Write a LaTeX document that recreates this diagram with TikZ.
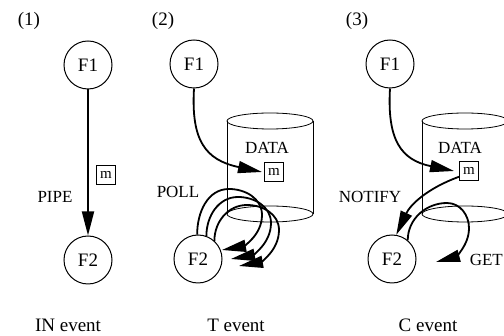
\documentclass[tikz,border=0pt]{standalone}
\usepackage{fontspec}
\setmainfont{Liberation Serif}
\usetikzlibrary{arrows.meta, positioning}

\begin{document}
\begin{tikzpicture}[
  x=1pt, y=1pt,
  >={Triangle[length=24pt, width=12pt]},
  proc/.style  = {draw, circle, line width=1pt, minimum size=48pt, inner sep=0pt, font=\fontsize{19}{22}\selectfont},
  mbox/.style  = {draw, rectangle, line width=1pt, minimum size=19pt, inner sep=0pt, font=\fontsize{15}{17}\selectfont},
  lbl/.style   = {inner sep=0pt, font=\fontsize{17}{20}\selectfont},
  title/.style = {inner sep=0pt, font=\fontsize{19}{22}\selectfont},
  flow/.style  = {->, line width=1.8pt},
  store/.style = {line width=0.8pt},
]
  \useasboundingbox (0,0) rectangle (504,-336);
  \clip (0,0) rectangle (504,-336);

  % data stores of (2) and (3)
  \foreach \cx in {270,465} {
    \draw[store] (\cx,-121) ellipse [x radius=43, y radius=8];
    \draw[store] (\cx,-214) ellipse [x radius=43, y radius=8];
    \draw[store] (\cx-43,-121) -- (\cx-43,-214);
    \draw[store] (\cx+43,-121) -- (\cx+43,-214);
  }

  % (1) pipe
  \node[title] (t1) at (29,-21) {(1)};
  \node[proc] (F1a) at (88,-65) {F1};
  \node[proc, below=146pt of F1a] (F2a) {F2};
  \node[mbox] (ma) at (106,-175) {m};
  \node[lbl] (pipe) at (55,-197) {PIPE};
  \node[title] (ev1) at (68,-325) {IN event};
  \draw[flow] (F1a) -- (F2a);

  % (2) poll
  \node[title] (t2) at (163,-21) {(2)};
  \node[proc] (F1b) at (194,-64) {F1};
  \node[proc] (F2b) at (198,-259) {F2};
  \node[mbox] (mb) at (274,-172) {m};
  \node[lbl] (datab) at (267,-148) {DATA};
  \node[lbl] (poll) at (178,-192) {POLL};
  \node[title] (ev2) at (236,-325) {T event};
  \coordinate (pb1) at (222,-250);
  \coordinate (pb2) at (231,-259);
  \coordinate (pb3) at (239,-266);
  \draw[flow] (F1b.south) .. controls (191,-140) and (205,-160) .. ([xshift=-2pt]mb.west);
  \draw[flow] (F2b.92) to[out=90,in=180] (229,-189) to[out=0,in=90] (262,-215) to[out=-90,in=10] (pb1);
  \draw[flow] (F2b.70) to[out=90,in=180] (238,-197) to[out=0,in=90] (271,-223) to[out=-90,in=10] (pb2);
  \draw[flow] (F2b.48) to[out=90,in=180] (247,-205) to[out=0,in=90] (279,-230) to[out=-90,in=10] (pb3);

  % (3) notify
  \node[title] (t3) at (357,-21) {(3)};
  \node[proc] (F1c) at (390,-64) {F1};
  \node[proc] (F2c) at (392,-259) {F2};
  \node[mbox] (mc) at (469,-171) {m};
  \node[lbl] (datac) at (460,-148) {DATA};
  \node[lbl] (notify) at (370,-197) {NOTIFY};
  \node[lbl, anchor=east] (get) at (503,-260) {GET};
  \node[title] (ev3) at (428,-325) {C event};
  \coordinate (gete) at (436,-262);
  \draw[flow] (F1c.south) .. controls (387,-140) and (401,-160) .. ([xshift=-5pt]mc.west);
  \draw[flow] (mc.210) to[out=200,in=65] (F2c.80);
  \draw[flow] (F2c.50) to[out=90,in=180] (447,-203) to[out=0,in=90] (469,-228) to[out=-90,in=15] (gete);
\end{tikzpicture}
\end{document}
